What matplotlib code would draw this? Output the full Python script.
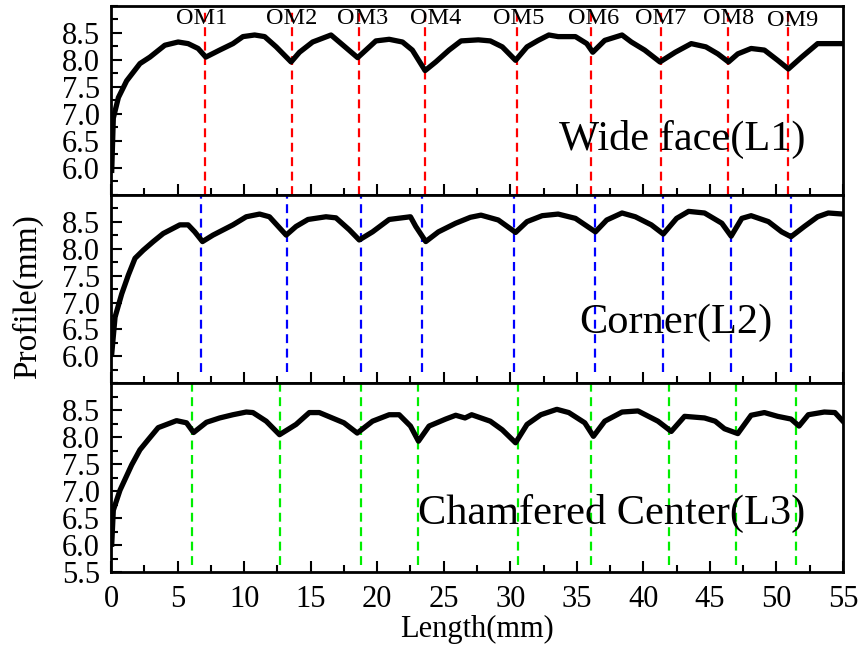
import numpy as np
import matplotlib
matplotlib.use("Agg")
import matplotlib.pyplot as plt
from matplotlib.ticker import MultipleLocator

plt.rcParams['font.family'] = ['Liberation Serif', 'DejaVu Serif']
plt.rcParams['mathtext.fontset'] = 'stix'

# Wide face (L1) profile
x1 = [0.05, 0.17, 0.55, 1.17, 2.17, 2.92, 4.04, 5.04, 5.79, 6.54, 7.12, 8.16, 9.16, 9.91,
      10.79, 11.54, 12.41, 13.53, 14.16, 15.15, 16.53, 17.15, 18.53, 19.15, 19.9, 20.9,
      21.9, 22.64, 23.6, 24.4, 25.4, 26.3, 27.6, 28.5, 29.4, 30.4, 31.26, 32.1, 32.9,
      33.6, 34.9, 35.75, 36.2, 37.1, 38.4, 39.1, 40.1, 41.25, 42.4, 43.6, 44.7, 45.6,
      46.4, 47.1, 48.1, 49.1, 50.1, 50.9, 51.9, 53.1, 54.7, 55.0]
y1 = [5.95, 6.92, 7.30, 7.61, 7.93, 8.05, 8.27, 8.33, 8.30, 8.21, 8.05, 8.18, 8.30, 8.43,
      8.46, 8.43, 8.24, 7.96, 8.14, 8.33, 8.46, 8.33, 8.04, 8.18, 8.35, 8.38,
      8.33, 8.18, 7.80, 7.96, 8.18, 8.35, 8.37, 8.35, 8.24, 7.99, 8.24, 8.36, 8.46,
      8.43, 8.43, 8.30, 8.14, 8.36, 8.46, 8.33, 8.18, 7.96, 8.14, 8.30, 8.24, 8.11,
      7.96, 8.11, 8.21, 8.18, 7.99, 7.83, 8.05, 8.30, 8.30, 8.30]

# Corner (L2) profile
x2 = [0.05, 0.3, 0.8, 1.3, 1.8, 2.42, 3.17, 3.92, 5.17, 5.79, 6.29, 6.87, 7.66, 9.16,
      10.16, 11.16, 11.9, 13.16, 13.9, 14.8, 16.15, 16.9, 17.9, 18.65, 19.65, 20.9,
      22.5, 22.9, 23.65, 24.6, 25.9, 27.0, 27.8, 29.1, 30.4, 31.26, 32.4, 33.6, 34.9,
      36.4, 37.25, 38.4, 39.4, 40.6, 41.5, 42.5, 43.4, 44.6, 45.9, 46.6, 47.4, 48.1,
      49.4, 50.4, 51.1, 52.1, 53.1, 53.9, 55.0]
y2 = [6.05, 6.73, 7.16, 7.51, 7.82, 7.97, 8.13, 8.28, 8.44, 8.44, 8.31, 8.13, 8.25, 8.44,
      8.59, 8.64, 8.59, 8.25, 8.41, 8.54, 8.59, 8.57, 8.35, 8.16, 8.31, 8.54,
      8.59, 8.41, 8.13, 8.31, 8.47, 8.58, 8.62, 8.53, 8.30, 8.50, 8.61, 8.64, 8.56,
      8.31, 8.53, 8.66, 8.59, 8.44, 8.27, 8.56, 8.69, 8.66, 8.47, 8.23, 8.56, 8.61,
      8.50, 8.31, 8.22, 8.41, 8.59, 8.66, 8.64]

# Chamfered center (L3) profile
x3 = [0.05, 0.17, 0.67, 1.55, 2.17, 2.8, 3.54, 4.92, 5.67, 6.2, 7.17, 8.16, 9.16, 10.16,
      10.66, 11.66, 12.66, 13.9, 14.9, 15.65, 17.5, 18.5, 19.65, 20.9, 21.65, 22.5,
      23.1, 23.9, 25.15, 25.9, 26.6, 27.1, 28.5, 29.4, 30.4, 31.26, 32.3, 33.5, 34.4,
      35.6, 36.25, 37.1, 38.4, 39.6, 41.1, 42.1, 43.1, 44.6, 45.4, 46.1, 47.1, 48.1,
      49.1, 50.1, 51.1, 51.7, 52.4, 53.6, 54.4, 55.0]
y3 = [6.02, 6.65, 7.02, 7.49, 7.77, 7.96, 8.18, 8.31, 8.27, 8.09, 8.28, 8.36, 8.42, 8.47,
      8.46, 8.30, 8.05, 8.24, 8.46, 8.46, 8.27, 8.08, 8.30, 8.42, 8.42, 8.21,
      7.93, 8.21, 8.34, 8.41, 8.36, 8.42, 8.30, 8.14, 7.90, 8.24, 8.42, 8.52, 8.46,
      8.27, 8.02, 8.30, 8.47, 8.49, 8.30, 8.11, 8.39, 8.36, 8.30, 8.16, 8.07, 8.41,
      8.46, 8.39, 8.34, 8.21, 8.42, 8.47, 8.46, 8.30]

# positions of OM marks for each line
om_l1 = [7.04, 13.56, 18.6, 23.6, 30.5, 36.1, 41.3, 46.4, 50.9]
om_l2 = [6.74, 13.2, 18.8, 23.4, 30.3, 36.4, 41.5, 46.6, 51.1]
om_l3 = [6.07, 12.66, 18.8, 23.1, 30.6, 36.1, 41.9, 47.0, 51.5]
om_labels = ['OM1', 'OM2', 'OM3', 'OM4', 'OM5', 'OM6', 'OM7', 'OM8', 'OM9']
om_label_x = [6.8, 13.6, 18.9, 24.4, 30.6, 36.3, 41.3, 46.4, 51.2]
om_label_y = [8.77, 8.77, 8.77, 8.77, 8.77, 8.77, 8.77, 8.77, 8.73]

# (x, y, om positions, colour, name, name_x, name_y, line ymin)
panels = [
    (x1, y1, om_l1, 'red', 'Wide face(L1)', 52.2, 6.53, 0.0),
    (x2, y2, om_l2, 'blue', 'Corner(L2)', 49.7, 6.63, 0.06),
    (x3, y3, om_l3, '#00ee00', 'Chamfered Center(L3)', 52.2, 6.59, 0.04),
]

fig, axes = plt.subplots(3, 1, figsize=(8.61, 6.51), dpi=100, sharex=True)
fig.subplots_adjust(left=0.129, right=0.979, top=0.991, bottom=0.121, hspace=0)

for i, (ax, (xs, ys, oms, col, name, nx, ny, ymin)) in enumerate(zip(axes, panels)):
    for xv in oms:
        ax.axvline(xv, ymin=ymin, ymax=1, color=col, ls=(0, (4, 2.5)), lw=1.6, zorder=1)
    ax.plot(xs, ys, color='black', lw=3.8, solid_joinstyle='round', zorder=3)
    ax.set_xlim(0, 55)
    ax.set_ylim(5.5, 9.0)
    ax.text(nx, ny, name, ha='right', va='center', fontsize=30.5)
    if i < 2:
        ax.set_yticks([6.0, 6.5, 7.0, 7.5, 8.0, 8.5])
    else:
        ax.set_yticks([5.5, 6.0, 6.5, 7.0, 7.5, 8.0, 8.5])
    ax.yaxis.set_minor_locator(MultipleLocator(0.25))
    ax.xaxis.set_major_locator(MultipleLocator(5))
    ax.xaxis.set_minor_locator(MultipleLocator(2.5))
    ax.tick_params(which='major', direction='in', length=8, width=1.5, labelsize=22)
    ax.tick_params(axis='y', which='major', pad=8)
    ax.tick_params(axis='x', which='major', pad=9)
    ax.tick_params(which='minor', direction='in', length=5, width=1.5)
    for sp in ax.spines.values():
        sp.set_linewidth(2)

for lab, xv, yv in zip(om_labels, om_label_x, om_label_y):
    axes[0].text(xv, yv, lab, ha='center', va='center', fontsize=17.5)

axes[2].set_xlabel('Length(mm)', fontsize=22, labelpad=1)
fig.text(0.032, 0.545, 'Profile(mm)', rotation=90, ha='center', va='center', fontsize=24)

fig.savefig('out.png', dpi=100)
